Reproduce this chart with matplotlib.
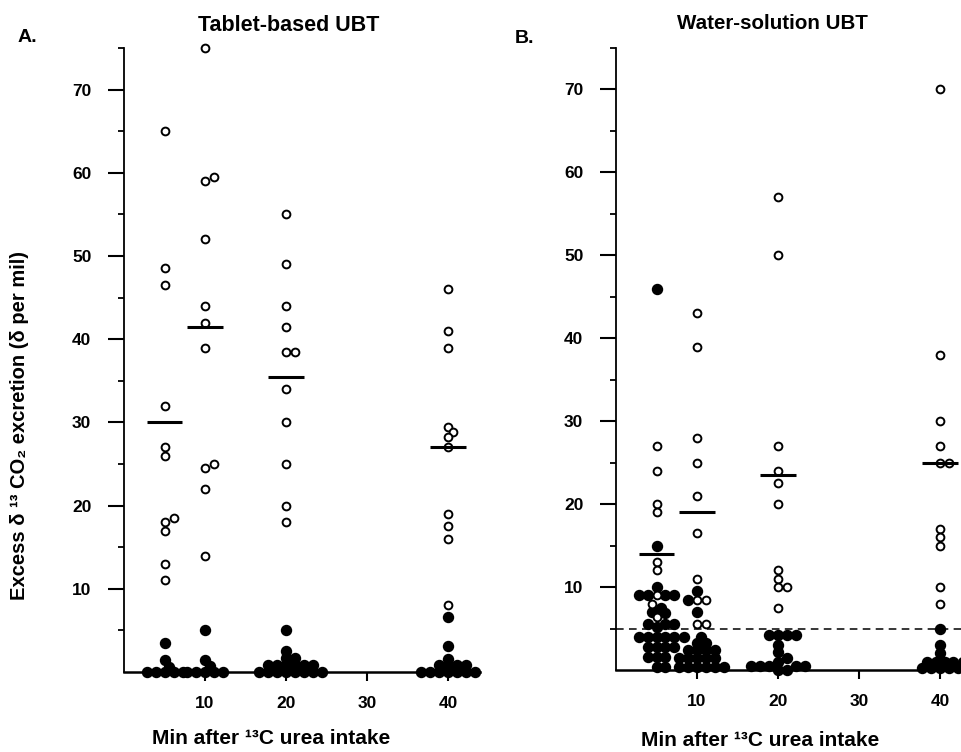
import numpy as np
import matplotlib.pyplot as plt

plt.rcParams['font.family'] = ['Liberation Sans', 'DejaVu Sans']
plt.rcParams['font.weight'] = 'bold'

# sampling times (min after 13C urea intake)
times = [5, 10, 20, 40]

# Tablet-based UBT (panel A): open = positive, filled = negative
tablet_open = [
    [65, 48.5, 46.5, 32, 27, 26, 18.5, 18, 17, 13, 11],
    [75, 59.5, 59, 52, 44, 42, 39, 25, 24.5, 22, 14],
    [55, 49, 44, 41.5, 38.5, 38.5, 34, 30, 25, 20, 18],
    [46, 41, 39, 29.4, 28.8, 28.2, 27.1, 19, 17.5, 16, 8],
]
tablet_filled = [
    [3.5, 1.5, 0.6, 0, 0, 0, 0, 0],
    [5, 1.5, 0.7, 0, 0, 0, 0, 0],
    [5.1, 2.5, 1.7, 1.7, 0.8, 0.8, 0.8, 0.8, 0.8, 0.8, 0, 0, 0, 0, 0, 0, 0, 0],
    [6.6, 3.1, 1.6, 0.8, 0.8, 0.8, 0.8, 0, 0, 0, 0, 0, 0, 0],
]
tablet_mean = [30, 41.5, 35.5, 27.1]

# Water-solution UBT (panel B)
water_open = [
    [27, 24, 20, 19, 13, 12, 9, 8, 6.4],
    [43, 39, 28, 25, 21, 16.5, 11, 8.4, 8.4, 5.5, 5.5],
    [57, 50, 27, 24, 22.5, 20, 12, 11, 10, 10, 7.5],
    [70, 38, 30, 27, 25, 25, 17, 16, 15, 10, 8],
]
water_filled = [
    [46, 15, 10, 9, 9, 9, 9, 7.5, 7, 6.9, 5.5, 5.5, 5.5, 5.2, 4, 4, 4, 4, 4, 4,
     2.8, 2.8, 2.8, 2.8, 1.6, 1.6, 1.6, 0.4, 0.4],
    [9.5, 8.4, 7, 4, 3.3, 3.3, 2.4, 2.4, 2.4, 2.4, 1.4, 1.4, 1.4, 1.4, 1.4,
     0.4, 0.4, 0.4, 0.4, 0.4, 0.4],
    [4.2, 4.2, 4.2, 4.2, 3, 2.2, 1.5, 1, 0.5, 0.5, 0.5, 0.5, 0.5, 0, 0],
    [5, 3, 2, 1, 1, 1, 1, 1, 0.3, 0.3, 0.3, 0.3, 0.3, 0.3],
]
water_mean = [14, 19, 23.5, 25]
cutoff = 5


def swarm(ax, x0, values, gap=9.0):
    # simple beeswarm in pixel space, returns x positions in data units
    order = np.argsort(values, kind='stable')
    placed = []
    xs = np.zeros(len(values))
    steps = [0]
    for k in range(1, 16):
        steps += [k, -k]
    for i in order:
        cx, cy = ax.transData.transform((x0, values[i]))
        for k in steps:
            px = cx + k * gap / 2
            if all((px - qx) ** 2 + (cy - qy) ** 2 >= (gap * 0.7) ** 2 for qx, qy in placed):
                break
        placed.append((px, cy))
        xs[i] = ax.transData.inverted().transform((px, cy))[0]
    return xs


def draw_panel(ax, opens, filled, means):
    for t, o, f, m in zip(times, opens, filled, means):
        vals = np.array(list(o) + list(f), dtype=float)
        xs = swarm(ax, t, vals)
        n = len(o)
        ax.plot(xs[n:], vals[n:], 'o', ms=7.2, mfc='black', mec='black', clip_on=False, zorder=3)
        ax.plot(xs[:n], vals[:n], 'o', ms=5.6, mfc='white', mec='black', mew=1.4, clip_on=False, zorder=4)
        ax.hlines(m, t - 2.2, t + 2.2, color='black', lw=2.2, zorder=5)

    ax.set_ylim(0, 75)
    ax.set_yticks(range(10, 80, 10))
    ax.set_yticks([5, 15, 25, 35, 45, 55, 65, 75], minor=True)
    ax.set_xticks([10, 20, 30, 40])
    ax.spines['top'].set_visible(False)
    ax.spines['right'].set_visible(False)
    ax.spines['left'].set_linewidth(1.3)
    ax.spines['bottom'].set_linewidth(1.8)
    ax.tick_params(axis='y', which='major', length=11.5, width=1.5, pad=12, labelsize=12.5)
    ax.tick_params(axis='y', which='minor', length=4.3, width=1.3)
    ax.tick_params(axis='x', which='major', length=6.5, width=1.5, pad=11, labelsize=12.5)


W, H = 961, 752
fig = plt.figure(figsize=(W / 100, H / 100), dpi=100)

axA = fig.add_axes([124 / W, 80 / H, 356 / W, 624 / H])
axA.set_xlim(0, 356 / 8.1)
axA.set_ylim(0, 75)
draw_panel(axA, tablet_open, tablet_filled, tablet_mean)

axB = fig.add_axes([616 / W, 82 / H, 345 / W, 622 / H])
axB.set_xlim(0, 345 / 8.1)
axB.set_ylim(0, 75)
axB.axhline(cutoff, color='black', lw=1.1, ls=(0, (5, 3.5)), zorder=1)
draw_panel(axB, water_open, water_filled, water_mean)

fig.text(18 / W, 1 - 42 / H, 'A.', fontsize=14, ha='left', va='baseline')
fig.text(515 / W, 1 - 43 / H, 'B.', fontsize=14, ha='left', va='baseline')
fig.text(289 / W, 1 - 31 / H, 'Tablet-based UBT', fontsize=15.5, ha='center', va='baseline')
fig.text(772 / W, 1 - 29 / H, 'Water-solution UBT', fontsize=14.8, ha='center', va='baseline')
fig.text(271 / W, 1 - 738 / H, 'Min after ¹³C urea intake', fontsize=15, ha='center', va='center')
fig.text(760 / W, 1 - 740 / H, 'Min after ¹³C urea intake', fontsize=15, ha='center', va='center')
fig.text(20 / W, 1 - 426 / H, 'Excess δ ¹³ CO₂ excretion (δ per mil)', fontsize=14.5,
         rotation=90, ha='center', va='center')

fig.savefig('out.png', dpi=100)
